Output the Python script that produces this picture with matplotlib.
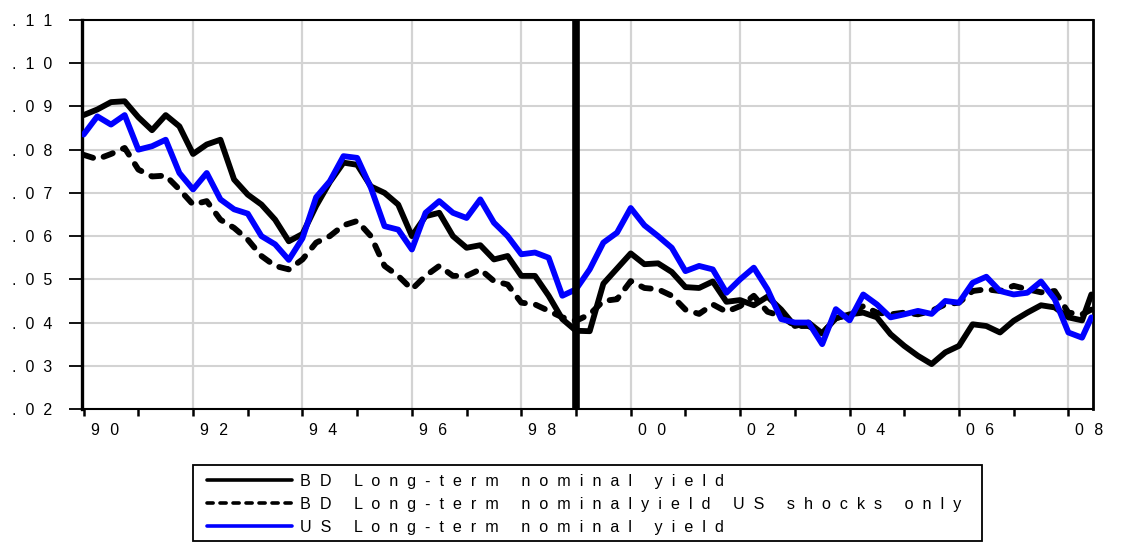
import numpy as np
import matplotlib
matplotlib.use("Agg")
import matplotlib.pyplot as plt
import matplotlib.transforms as mtransforms
from matplotlib.patches import Rectangle

plt.rcParams['font.family'] = ['Liberation Sans', 'DejaVu Sans']

# ---- data (quarterly readings, 1990Q1 .. 2008Q2, plus mid-2008 end point) ----
dates = [1990 + 0.25 * i for i in range(74)] + [2008.42]

bd_yield = [
    .0880, .0893, .0910, .0912, .0875, .0845, .0880, .0854,   # 1990-91
    .0790, .0812, .0823, .0731, .0696, .0673, .0638, .0588,   # 1992-93
    .0605, .0670, .0725, .0770, .0765, .0715, .0700, .0673,   # 1994-95
    .0600, .0646, .0654, .0600, .0573, .0579, .0546, .0554,   # 1996-97
    .0508, .0508, .0462, .0408, .0381, .0380, .0490, .0525,   # 1998-99
    .0560, .0535, .0537, .0517, .0482, .0480, .0495, .0448,   # 2000-01
    .0452, .0440, .0460, .0430, .0392, .0400, .0375, .0410,   # 2002-03
    .0419, .0423, .0412, .0373, .0346, .0323, .0304, .0331,   # 2004-05
    .0346, .0396, .0392, .0377, .0404, .0423, .0440, .0435,   # 2006-07
    .0412, .0405, .0465]                                      # 2008

bd_us_shocks = [
    .0788, .0778, .0790, .0804, .0754, .0738, .0740, .0708,
    .0673, .0681, .0638, .0619, .0592, .0554, .0531, .0523,
    .0546, .0585, .0600, .0625, .0635, .0600, .0531, .0508,
    .0477, .0508, .0531, .0508, .0508, .0523, .0496, .0488,
    .0446, .0442, .0427, .0412, .0404, .0419, .0450, .0454,
    .0496, .0480, .0477, .0462, .0430, .0420, .0442, .0425,
    .0438, .0462, .0425, .0415, .0392, .0392, .0375, .0410,
    .0419, .0438, .0423, .0419, .0423, .0419, .0427, .0442,
    .0446, .0473, .0477, .0473, .0485, .0477, .0470, .0473,
    .0423, .0419, .0430]

us_yield = [
    .0835, .0877, .0858, .0880, .0800, .0808, .0823, .0746,
    .0708, .0746, .0685, .0662, .0652, .0600, .0581, .0545,
    .0595, .0690, .0727, .0785, .0781, .0712, .0623, .0615,
    .0569, .0654, .0681, .0654, .0642, .0685, .0631, .0600,
    .0558, .0562, .0550, .0462, .0477, .0523, .0585, .0608,
    .0665, .0625, .0600, .0573, .0519, .0531, .0523, .0469,
    .0500, .0527, .0477, .0408, .0400, .0400, .0350, .0431,
    .0405, .0465, .0442, .0412, .0419, .0427, .0420, .0450,
    .0446, .0492, .0506, .0473, .0465, .0469, .0495, .0454,
    .0377, .0365, .0412]

break_date = 1999.0

labels = ["BD Long-term nominal yield",
          "BD Long-term nominalyield US shocks only",
          "US Long-term nominal yield"]

yticks = [.02, .03, .04, .05, .06, .07, .08, .09, .10, .11]
ytick_labels = [".02", ".03", ".04", ".05", ".06", ".07", ".08", ".09", ".10", ".11"]
xmajor = [1990, 1992, 1994, 1996, 1998, 2000, 2002, 2004, 2006, 2008]
xmajor_labels = ["90", "92", "94", "96", "98", "00", "02", "04", "06", "08"]
xminor = [1991, 1993, 1995, 1997, 1999, 2001, 2003, 2005, 2007]


def spaced(s, gap):
    """Imitate the wide letter spacing of the original graph."""
    return gap.join(list(s))


# ---- figure ----
W, H = 1125, 542
fig = plt.figure(figsize=(W / 100, H / 100), dpi=100)
ax = fig.add_axes([82 / W, 1 - 409 / H, (1093 - 82) / W, (409 - 20) / H])

ax.set_xlim(1989.97, 2008.45)
ax.set_ylim(0.02, 0.11)

# grid
for y in yticks[1:-1]:
    ax.axhline(y, color='#d3d3d3', lw=1.5, zorder=0)
for x in xmajor[1:]:
    ax.axvline(x, color='#d3d3d3', lw=1.6, zorder=0)

lw = 4.2
l1, = ax.plot(dates, bd_yield, color='black', lw=lw, solid_joinstyle='round',
              solid_capstyle='round', zorder=3)
l2, = ax.plot(dates, bd_us_shocks, color='black', lw=lw, linestyle=(0, (1.7, 1.9)),
              dash_capstyle='round', dash_joinstyle='round', zorder=3)
l3, = ax.plot(dates, us_yield, color='#0000ff', lw=lw, solid_joinstyle='round',
              solid_capstyle='round', zorder=4)

ax.axvline(break_date, color='black', lw=5.5, zorder=5)

# spines
for side in ['top', 'bottom']:
    ax.spines[side].set_linewidth(1.5)
ax.spines['left'].set_linewidth(2.4)
ax.spines['right'].set_linewidth(2.0)

ax.set_yticks(yticks)
ax.set_yticklabels([spaced(t, '  ') for t in ytick_labels], fontsize=11.5)
ax.tick_params(axis='y', direction='out', length=9.7, width=1.3, pad=11.5)

ax.set_xticks(xmajor)
ax.set_xticks(xminor, minor=True)
ax.set_xticklabels([spaced(t, '  \u200a') for t in xmajor_labels], fontsize=11.5, ha='left')
ax.tick_params(axis='x', which='both', direction='out', length=4.8, width=1.8, pad=5)
offset = mtransforms.ScaledTranslation(7 / 100, 0, fig.dpi_scale_trans)
for lab in ax.get_xticklabels():
    lab.set_transform(lab.get_transform() + offset)

# legend box
fig.patches.append(Rectangle((193 / W, 1 - 541 / H), (982 - 193) / W, (541 - 465) / H,
                             transform=fig.transFigure, fill=False, edgecolor='black', lw=1.3))
leg = fig.legend([l1, l2, l3], [spaced(s, '  ') for s in labels], loc='upper left',
                 bbox_to_anchor=(207 / W, 1 - 474 / H), frameon=False,
                 fontsize=11.6, handlelength=5.3, handletextpad=0.45,
                 labelspacing=0.5, borderpad=0, borderaxespad=0)
for h in leg.legend_handles:
    h.set_linewidth(2.6)

fig.savefig("out.png", dpi=100)
